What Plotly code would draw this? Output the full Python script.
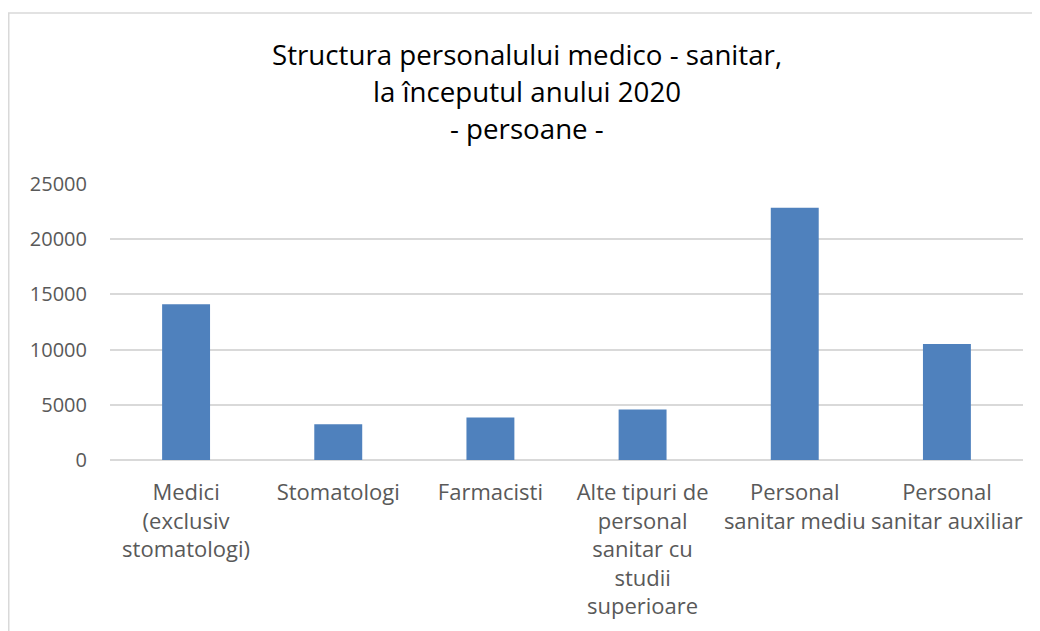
import plotly.graph_objects as go

# categories (line breaks as they wrap in the source chart)
categories = [
    "Medici<br>(exclusiv<br>stomatologi)",
    "Stomatologi",
    "Farmacisti",
    "Alte tipuri de<br>personal<br>sanitar cu<br>studii<br>superioare",
    "Personal<br>sanitar mediu",
    "Personal<br>sanitar auxiliar",
]
persoane = [14100, 3240, 3850, 4570, 22850, 10500]

title_lines = [
    "Structura personalului medico - sanitar,",
    "la începutul anului 2020",
    "- persoane -",
]

FONT = "Open Sans"
GREY = "#595959"

fig = go.Figure(
    go.Bar(
        x=categories,
        y=persoane,
        marker=dict(color="#4F81BD", line=dict(width=0)),
        hoverinfo="x+y",
    )
)

# page body has an 8px margin, so the figure is a bit smaller than the window
W, H = 1032, 623
L, R, T, B = 102, 17, 176, 171
ph = H - T - B
pw = W - L - R

# title lines placed as annotations to match the wider line spacing
for py, txt in zip([46, 83, 119.5], title_lines):
    fig.add_annotation(
        text=txt, xref="paper", yref="paper",
        x=(519 - L) / pw, y=(H - B - py) / ph,
        xanchor="center", yanchor="middle", showarrow=False,
        font=dict(family=FONT, size=27.7, color="#000000"),
    )

# light frame around the chart area
fig.add_shape(
    type="rect", xref="paper", yref="paper",
    x0=(0.75 - L) / pw, x1=1.2, y0=-1.0, y1=(H - B - 5) / ph,
    line=dict(color="#D9D9D9", width=1.5),
)

fig.update_layout(
    width=W, height=H,
    margin=dict(l=L, r=R, t=T, b=B, autoexpand=False),
    paper_bgcolor="white", plot_bgcolor="white",
    bargap=0.685,
    showlegend=False,
    font=dict(family=FONT, color=GREY),
)
fig.update_xaxes(
    automargin=False,
    tickangle=0, showgrid=False, showline=False, ticks="",
    tickfont=dict(family=FONT, size=22, color=GREY),
    ticklabelstandoff=17,
)
fig.update_yaxes(
    automargin=False,
    range=[0, 25000], dtick=5000, tickformat="d",
    showgrid=True, gridcolor="#D9D9D9", gridwidth=1.5,
    zeroline=True, zerolinecolor="#D9D9D9", zerolinewidth=1.5,
    showline=False, ticks="",
    tickfont=dict(family=FONT, size=20, color=GREY),
    ticklabelstandoff=22,
)

fig.write_html("out.html")
